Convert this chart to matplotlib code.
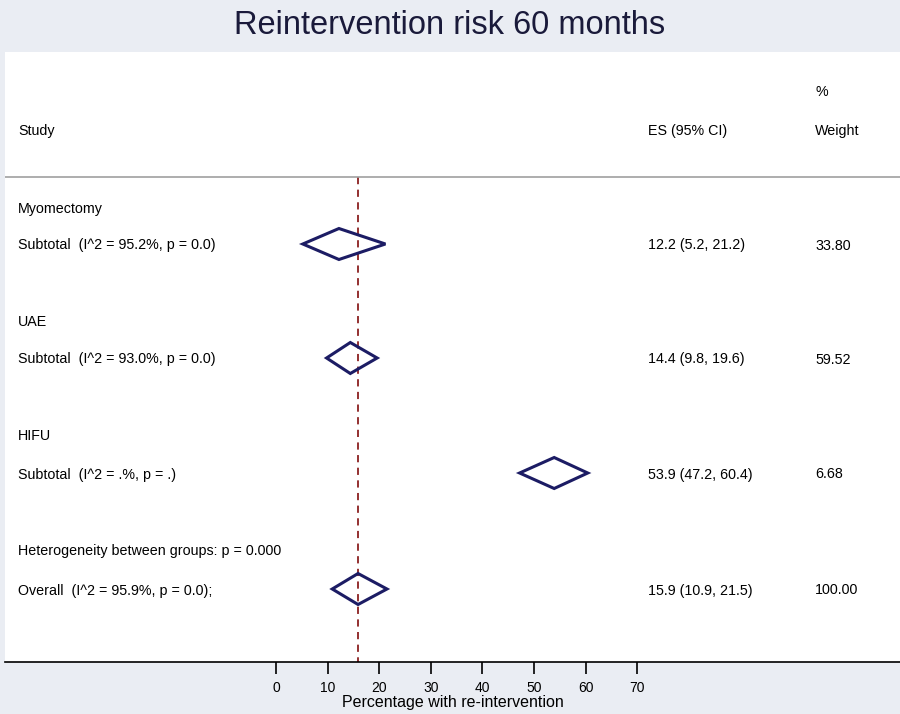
import numpy as np
import matplotlib
matplotlib.use("Agg")
from matplotlib import pyplot as plt
from matplotlib.patches import Polygon

plt.rcParams["font.family"] = ["Liberation Sans", "DejaVu Sans"]

# Data
groups = ["Myomectomy", "UAE", "HIFU"]
subtotal_labels = [
    "Subtotal  (I^2 = 95.2%, p = 0.0)",
    "Subtotal  (I^2 = 93.0%, p = 0.0)",
    "Subtotal  (I^2 = .%, p = .)",
]
es = [12.2, 14.4, 53.9]
ci_low = [5.2, 9.8, 47.2]
ci_high = [21.2, 19.6, 60.4]
weights = ["33.80", "59.52", "6.68"]

overall_label = "Overall  (I^2 = 95.9%, p = 0.0);"
overall_es, overall_low, overall_high = 15.9, 10.9, 21.5
overall_weight = "100.00"
het_label = "Heterogeneity between groups: p = 0.000"

xticks = [0, 10, 20, 30, 40, 50, 60, 70]

BG = "#eaedf3"
NAVY = "#1c1c64"
RED = "#8b2020"

fig = plt.figure(figsize=(9, 7.14), dpi=100, facecolor=BG)
W, H = 900, 714

# white panel, axes in pixel-like rows
ax = fig.add_axes([5 / W, 1 - 662 / H, 895 / W, (662 - 52) / H])
ax.set_facecolor("white")
ax.set_xlim(-52.5, 120.9)
ax.set_ylim(662, 52)

for s in ["top", "left", "right"]:
    ax.spines[s].set_visible(False)
ax.spines["bottom"].set_color("black")
ax.spines["bottom"].set_linewidth(1.2)
ax.set_yticks([])
ax.set_xticks(xticks)
ax.tick_params(axis="x", length=8.5, width=1.2, labelsize=10, pad=5)
ax.set_xlabel("Percentage with re-intervention", fontsize=11.5, labelpad=0)

fs = 10.3
x_study = 13 / 895
x_es = 643 / 895
x_wt = 810 / 895
tr = ax.get_yaxis_transform()
dy = 1.5

# header
ax.text(x_study, 129 + dy, "Study", transform=tr, fontsize=fs, va="center")
ax.text(x_es, 129 + dy, "ES (95% CI)", transform=tr, fontsize=fs, va="center")
ax.text(x_wt, 129 + dy, "Weight", transform=tr, fontsize=fs, va="center")
ax.text(x_wt, 91 + dy, "%", transform=tr, fontsize=fs, va="center")
ax.axhline(177, color="#a0a0a0", lw=1.2)

# reference line at overall estimate
ax.plot([overall_es, overall_es], [177, 662], color=RED, lw=1.3, ls=(0, (4, 3)), zorder=1)


def diamond(lo, mid, hi, y, half=15.5):
    poly = Polygon([[lo, y], [mid, y - half], [hi, y], [mid, y + half]],
                   closed=True, fill=False, edgecolor=NAVY, lw=2.2, zorder=3)
    ax.add_patch(poly)


group_y = [207, 321, 435]
sub_y = [244, 358, 473]
for i, g in enumerate(groups):
    ax.text(x_study, group_y[i] + dy, g, transform=tr, fontsize=fs, va="center")
    ax.text(x_study, sub_y[i] + dy, subtotal_labels[i], transform=tr, fontsize=fs, va="center")
    ax.text(x_es, sub_y[i] + dy, f"{es[i]:.1f} ({ci_low[i]:.1f}, {ci_high[i]:.1f})",
            transform=tr, fontsize=fs, va="center")
    ax.text(x_wt, sub_y[i] + dy, weights[i], transform=tr, fontsize=fs, va="center")
    diamond(ci_low[i], es[i], ci_high[i], sub_y[i])

ax.text(x_study, 550 + dy, het_label, transform=tr, fontsize=fs, va="center")
ax.text(x_study, 589 + dy, overall_label, transform=tr, fontsize=fs, va="center")
ax.text(x_es, 589 + dy, f"{overall_es:.1f} ({overall_low:.1f}, {overall_high:.1f})",
        transform=tr, fontsize=fs, va="center")
ax.text(x_wt, 589 + dy, overall_weight, transform=tr, fontsize=fs, va="center")
diamond(overall_low, overall_es, overall_high, 589)

fig.text(0.5, 1 - 26 / H, "Reintervention risk 60 months", ha="center", va="center",
         fontsize=23.5, color="#1a1a3a")

fig.savefig("out.png", dpi=100, facecolor=BG)
